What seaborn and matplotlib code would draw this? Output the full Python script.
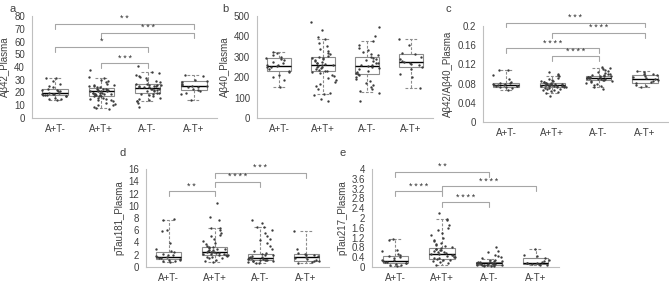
import numpy as np
import pandas as pd
import matplotlib
matplotlib.use("Agg")
import matplotlib.pyplot as plt
import seaborn as sns

sns.set_style("white")
plt.rcParams['font.family'] = ['Liberation Sans', 'DejaVu Sans']

groups = ["A+T-", "A+T+", "A-T-", "A-T+"]

# ---- panel a: Abeta42 ----
a_ATm = [14, 15, 15, 16, 17, 17, 18, 18, 18, 19, 19, 19, 20, 20, 21, 21, 22, 22, 23, 24, 25, 27, 29, 31, 31]
a_ATp = [7, 8, 9, 10, 10, 11, 12, 13, 14, 14, 15, 15, 16, 16, 17, 17, 17, 18, 18, 18, 19, 19, 19, 19, 20, 20,
         20, 20, 21, 21, 21, 21, 22, 22, 22, 22, 23, 23, 23, 24, 24, 25, 25, 26, 26, 27, 28, 29, 30, 31, 32, 38]
a_AmTm = [9, 12, 13, 13, 14, 15, 16, 17, 18, 19, 19, 20, 20, 21, 21, 22, 22, 23, 23, 23, 24, 24, 24, 25, 25,
          25, 26, 26, 26, 27, 27, 28, 29, 30, 31, 32, 33, 34, 35, 36, 41]
a_AmTp = [14, 19, 20, 21, 22, 23, 24, 24, 25, 25, 26, 27, 28, 29, 30, 33, 34]
a_q1 = [18, 17.5, 19.5, 22]
a_med = [19.5, 21, 23.5, 25]
a_q3 = [23, 23.5, 26.5, 29]
a_lo = [14, 8, 13, 14]
a_hi = [31, 31, 36, 34]
a_sig = [(0, 3, 74, "**"), (1, 3, 67, "***"), (0, 2, 56, "*"), (1, 2, 43, "***")]

# ---- panel b: Abeta40 ----
b_ATm = [152, 185, 200, 210, 225, 232, 240, 248, 252, 255, 258, 262, 268, 275, 282, 290, 296, 300, 310, 318, 322]
b_ATp = [85, 95, 115, 120, 125, 140, 155, 165, 175, 185, 195, 205, 212, 220, 225, 228, 232, 236, 240, 245, 248,
         252, 255, 258, 262, 265, 268, 272, 275, 280, 284, 288, 292, 296, 300, 305, 312, 320, 328, 340, 355, 370,
         385, 395, 430, 470]
b_AmTm = [85, 125, 130, 140, 150, 160, 170, 180, 190, 200, 210, 215, 220, 225, 232, 238, 244, 250, 254, 258,
          262, 268, 272, 278, 284, 290, 296, 300, 308, 316, 325, 335, 345, 360, 378, 400, 445]
b_AmTp = [148, 200, 215, 240, 252, 258, 265, 270, 275, 280, 290, 300, 312, 320, 360, 388]
b_q1 = [230, 228, 218, 252]
b_med = [257, 262, 257, 275]
b_q3 = [295, 298, 300, 313]
b_lo = [152, 118, 128, 148]
b_hi = [322, 385, 378, 388]
b_sig = []

# ---- panel c: Abeta42/Abeta40 ----
c_ATm = [0.067, 0.070, 0.072, 0.073, 0.074, 0.075, 0.076, 0.077, 0.077, 0.078, 0.079, 0.080, 0.081, 0.082,
         0.084, 0.090, 0.097, 0.108, 0.108]
c_ATp = [0.055, 0.060, 0.062, 0.064, 0.066, 0.067, 0.068, 0.069, 0.070, 0.071, 0.072, 0.072, 0.073, 0.074,
         0.074, 0.075, 0.075, 0.076, 0.076, 0.077, 0.077, 0.077, 0.078, 0.078, 0.079, 0.079, 0.080, 0.080,
         0.081, 0.081, 0.082, 0.083, 0.084, 0.085, 0.086, 0.088, 0.090, 0.092, 0.095, 0.098, 0.100, 0.105]
c_AmTm = [0.068, 0.072, 0.075, 0.078, 0.080, 0.082, 0.084, 0.085, 0.086, 0.087, 0.088, 0.089, 0.090, 0.090,
          0.091, 0.091, 0.092, 0.092, 0.093, 0.093, 0.094, 0.094, 0.095, 0.095, 0.096, 0.097, 0.098, 0.099,
          0.100, 0.102, 0.104, 0.106, 0.108, 0.110, 0.112, 0.115]
c_AmTp = [0.073, 0.075, 0.078, 0.081, 0.083, 0.085, 0.088, 0.090, 0.091, 0.093, 0.095, 0.097, 0.099, 0.101,
          0.104, 0.106]
c_q1 = [0.073, 0.072, 0.087, 0.081]
c_med = [0.077, 0.077, 0.092, 0.090]
c_q3 = [0.082, 0.081, 0.096, 0.098]
c_lo = [0.067, 0.060, 0.072, 0.073]
c_hi = [0.108, 0.095, 0.112, 0.106]
c_sig = [(0, 3, 0.207, "***"), (1, 3, 0.186, "****"), (0, 2, 0.154, "****"), (1, 2, 0.137, "****")]

# ---- panel d: pTau181 ----
d_ATm = [0.8, 0.9, 1.0, 1.1, 1.2, 1.3, 1.4, 1.5, 1.6, 1.7, 1.8, 1.9, 2.0, 2.2, 2.4, 2.6, 3.0, 4.0, 5.8, 6.0, 7.6, 7.8]
d_ATp = [0.8, 1.0, 1.2, 1.4, 1.5, 1.6, 1.7, 1.8, 1.9, 2.0, 2.0, 2.1, 2.2, 2.2, 2.3, 2.3, 2.4, 2.4, 2.5, 2.5,
         2.6, 2.7, 2.8, 2.9, 3.0, 3.1, 3.2, 3.3, 3.5, 3.7, 3.9, 4.2, 4.5, 5.0, 5.3, 5.6, 6.0, 6.3, 6.4, 7.7,
         8.1, 10.4]
d_AmTm = [0.6, 0.7, 0.8, 0.9, 1.0, 1.0, 1.1, 1.1, 1.2, 1.2, 1.3, 1.3, 1.4, 1.4, 1.5, 1.5, 1.6, 1.7, 1.8, 1.9,
          2.0, 2.1, 2.3, 2.6, 3.0, 3.5, 4.0, 4.4, 4.6, 5.0, 5.5, 6.0, 6.5, 6.6, 7.2, 7.7]
d_AmTp = [0.6, 0.8, 0.9, 1.0, 1.1, 1.3, 1.5, 1.6, 1.8, 1.9, 2.0, 2.1, 2.3, 3.0, 5.8]
d_q1 = [1.3, 2.0, 1.1, 1.0]
d_med = [1.7, 2.4, 1.4, 1.6]
d_q3 = [2.5, 3.2, 2.1, 2.1]
d_lo = [0.8, 0.8, 0.6, 0.6]
d_hi = [7.7, 6.4, 6.6, 5.8]
d_sig = [(0, 1, 12.4, "**"), (1, 2, 13.9, "****"), (1, 3, 15.4, "***")]

# ---- panel e: pTau217 ----
e_ATm = [0.05, 0.08, 0.1, 0.12, 0.15, 0.17, 0.2, 0.22, 0.25, 0.28, 0.3, 0.35, 0.4, 0.44, 0.5, 0.55, 0.65, 0.7,
         1.1, 1.15]
e_ATp = [0.1, 0.15, 0.2, 0.25, 0.28, 0.3, 0.32, 0.35, 0.38, 0.4, 0.42, 0.45, 0.48, 0.5, 0.52, 0.55, 0.58, 0.6,
         0.62, 0.65, 0.68, 0.7, 0.72, 0.75, 0.78, 0.8, 0.85, 0.9, 0.95, 1.0, 1.05, 1.1, 1.2, 1.3, 1.4, 1.5,
         1.6, 1.7, 1.9, 1.97, 2.2]
e_AmTm = [0.03, 0.05, 0.06, 0.07, 0.08, 0.09, 0.1, 0.1, 0.11, 0.12, 0.12, 0.13, 0.14, 0.15, 0.15, 0.16, 0.16,
          0.17, 0.18, 0.19, 0.2, 0.21, 0.23, 0.25, 0.28, 0.3, 0.35, 0.4, 0.45, 0.5, 0.6, 0.65, 0.8]
e_AmTp = [0.08, 0.1, 0.12, 0.13, 0.15, 0.16, 0.17, 0.2, 0.25, 0.3, 0.36, 0.45, 0.5, 0.72]
e_q1 = [0.17, 0.33, 0.10, 0.12]
e_med = [0.25, 0.52, 0.16, 0.17]
e_q3 = [0.44, 0.77, 0.20, 0.36]
e_lo = [0.05, 0.10, 0.03, 0.08]
e_hi = [1.15, 1.97, 0.33, 0.72]
e_sig = [(0, 2, 3.88, "**"), (1, 3, 3.29, "****"), (0, 1, 3.09, "****"), (1, 2, 2.64, "****")]

W, H = 669, 284
fig = plt.figure(figsize=(W / 100, H / 100), dpi=100)

# (letter, ylabel, data, stats, sig, ylim, yticks, box px [left, right, top, bottom], letter px)
panels = [
    ("a", "A\u03b242_Plasma", [a_ATm, a_ATp, a_AmTm, a_AmTp], (a_q1, a_med, a_q3, a_lo, a_hi), a_sig,
     (0, 80), np.arange(0, 81, 10), (32, 217, 16, 118), (10, 4)),
    ("b", "A\u03b240_Plasma", [b_ATm, b_ATp, b_AmTm, b_AmTp], (b_q1, b_med, b_q3, b_lo, b_hi), b_sig,
     (0, 500), np.arange(0, 501, 100), (257, 433, 16, 118), (222, 4)),
    ("c", "A\u03b242/A\u03b240_Plasma", [c_ATm, c_ATp, c_AmTm, c_AmTp], (c_q1, c_med, c_q3, c_lo, c_hi), c_sig,
     (0, 0.2), [0, 0.04, 0.08, 0.12, 0.16, 0.2], (483, 668, 26, 122), (446, 4)),
    ("d", "pTau181_Plasma", [d_ATm, d_ATp, d_AmTm, d_AmTp], (d_q1, d_med, d_q3, d_lo, d_hi), d_sig,
     (0, 16), np.arange(0, 17, 2), (146, 329, 169, 267), (120, 148)),
    ("e", "pTau217_Plasma", [e_ATm, e_ATp, e_AmTm, e_AmTp], (e_q1, e_med, e_q3, e_lo, e_hi), e_sig,
     (0, 4), [0, 0.4, 0.8, 1.2, 1.6, 2, 2.4, 2.8, 3.2, 3.6, 4], (372, 559, 169, 267), (340, 148)),
]

grey = "#8c8c8c"
txt = "#404040"
for letter, ylab, data, stats, sig, ylim, yticks, box, lpos in panels:
    l, r, t, b = box
    ax = fig.add_axes([l / W, 1 - b / H, (r - l) / W, (b - t) / H])

    df = pd.DataFrame({"group": np.repeat(groups, [len(v) for v in data]),
                       "value": np.concatenate(data)})

    q1, med, q3, lo, hi = stats
    bstats = [dict(q1=q1[i], med=med[i], q3=q3[i], whislo=lo[i], whishi=hi[i], fliers=[])
              for i in range(4)]
    ax.bxp(bstats, positions=range(4), widths=0.55, patch_artist=True, manage_ticks=False,
           boxprops=dict(facecolor="white", edgecolor=grey, linewidth=0.8),
           medianprops=dict(color="black", linewidth=1.0),
           whiskerprops=dict(color=grey, linewidth=0.8, linestyle=(0, (2.5, 1.5))),
           capprops=dict(color=grey, linewidth=0.8, linestyle=(0, (2.5, 1.5))),
           capwidths=0.28, zorder=1)

    np.random.seed(3)
    sns.stripplot(data=df, x="group", y="value", order=groups, jitter=0.3, size=1.7,
                  color="#3c3c3c", linewidth=0, ax=ax, zorder=3)

    for i, j, y, lab in sig:
        d = (ylim[1] - ylim[0]) * 0.05
        ax.plot([i, i, j, j], [y - d, y, y, y - d], color="#a6a6a6", lw=0.8, clip_on=False)
        ax.text((i + j) / 2, y + d * 0.1, "\u2009".join(lab), ha="center", va="bottom", fontsize=6.5,
                color="#303030", clip_on=False)

    ax.set_xlim(-0.5, 3.5)
    ax.set_ylim(*ylim)
    ax.set_yticks(yticks)
    ax.set_yticklabels([f"{v:g}" for v in yticks])
    ax.set_xticks(range(4))
    ax.set_xticklabels(groups)
    ax.set_xticks([0.5, 1.5, 2.5], minor=True)
    ax.tick_params(axis="x", which="major", length=0, pad=4, labelsize=7, colors=txt)
    ax.tick_params(axis="x", which="minor", length=3, width=0.7, color="#bfbfbf", direction="out")
    ax.tick_params(axis="y", length=3, width=0.7, color="#bfbfbf", direction="out", pad=2,
                   labelsize=7, labelcolor=txt)
    ax.set_xlabel("")
    ax.set_ylabel(ylab, fontsize=7, color=txt, labelpad=3)
    sns.despine(ax=ax)
    for s in ("left", "bottom"):
        ax.spines[s].set_color("#bfbfbf")
        ax.spines[s].set_linewidth(0.8)

    fig.text(lpos[0] / W, 1 - lpos[1] / H, letter, ha="left", va="top", fontsize=8, color=txt)

fig.savefig("out.png", dpi=100)
